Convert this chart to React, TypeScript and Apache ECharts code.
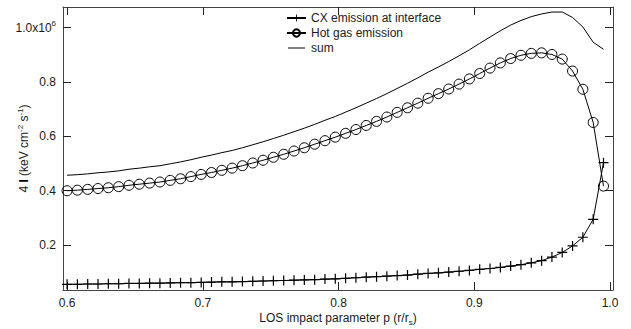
import React, { useEffect, useRef } from "react";
import * as echarts from "echarts";

// LOS impact parameter p (r/r_s)
const P = [
  0.6, 0.6076, 0.6152, 0.6228, 0.6304, 0.638, 0.6456, 0.6532, 0.6608, 0.6684,
  0.676, 0.6836, 0.6912, 0.6988, 0.7064, 0.714, 0.7216, 0.7292, 0.7368, 0.7444,
  0.752, 0.7596, 0.7672, 0.7748, 0.7824, 0.79, 0.7976, 0.8052, 0.8128, 0.8204,
  0.828, 0.8356, 0.8432, 0.8508, 0.8584, 0.866, 0.8736, 0.8812, 0.8888, 0.8964,
  0.904, 0.9116, 0.9192, 0.9268, 0.9344, 0.942, 0.9496, 0.9572, 0.9648, 0.9724,
  0.98, 0.9876, 0.9952,
];

// Hot gas emission (units of 1e6)
const HOT = [
  0.4, 0.402, 0.405, 0.408, 0.411, 0.415, 0.42, 0.424, 0.428, 0.432,
  0.438, 0.444, 0.452, 0.46, 0.467, 0.475, 0.483, 0.492, 0.502, 0.512,
  0.523, 0.534, 0.546, 0.558, 0.571, 0.584, 0.597, 0.611, 0.625, 0.64,
  0.655, 0.671, 0.688, 0.705, 0.722, 0.74, 0.757, 0.774, 0.792, 0.811,
  0.831, 0.851, 0.87, 0.886, 0.898, 0.905, 0.907, 0.901, 0.884, 0.84,
  0.773, 0.651, 0.417,
];

// CX emission at interface (units of 1e6)
const CX = [
  0.056, 0.056, 0.057, 0.057, 0.058, 0.058, 0.059, 0.059, 0.06, 0.06,
  0.061, 0.062, 0.062, 0.063, 0.064, 0.065, 0.065, 0.066, 0.067, 0.068,
  0.069, 0.07, 0.071, 0.072, 0.073, 0.075, 0.076, 0.078, 0.08, 0.082,
  0.084, 0.086, 0.088, 0.09, 0.093, 0.096, 0.098, 0.101, 0.104, 0.107,
  0.111, 0.114, 0.118, 0.123, 0.128, 0.135, 0.143, 0.156, 0.173, 0.197,
  0.229, 0.295, 0.503,
];

// sum (units of 1e6)
const SUM = [
  0.457, 0.459, 0.462, 0.466, 0.469, 0.473, 0.479, 0.483, 0.488, 0.492,
  0.499, 0.506, 0.514, 0.523, 0.531, 0.54, 0.548, 0.558, 0.569, 0.58,
  0.592, 0.604, 0.617, 0.63, 0.644, 0.659, 0.673, 0.689, 0.705, 0.722,
  0.739, 0.757, 0.776, 0.795, 0.815, 0.836, 0.855, 0.875, 0.896, 0.918,
  0.942, 0.965, 0.988, 1.009, 1.026, 1.04, 1.05, 1.057, 1.057, 1.037,
  1.002, 0.946, 0.92,
];

const X_TICKS = [0.6, 0.7, 0.8, 0.9, 1.0];
const Y_TICKS = [0.2, 0.4, 0.6, 0.8, 1.0];
const SERIES_NAMES = ["CX emission at interface", "Hot gas emission", "sum"];

const FONT = "Liberation Sans";
const TXT = "#1a1a1a";
const PLUS = "path://M4.4,0H5.6V10H4.4Z M0,4.4H10V5.6H0Z";
const LINE_ICON =
  "path://M0,0L0.01,0L0.01,0.01Z M0,4.5H19V5.5H0Z M18.99,10L19,10L19,9.99Z";

export default function App() {
  const ref = useRef<HTMLDivElement>(null);
  useEffect(() => {
    document.body.style.margin = "0";
    const chart = echarts.init(ref.current!, null, { renderer: "svg" });
    const xMin = 0.597;
    const xMax = 1.0022;
    const yMin = 0.035;
    const yMax = 1.0755;
    const line = { show: true, onZero: false, lineStyle: { color: "#444", width: 1 } };
    const tickX = { show: true, inside: true, length: 8, customValues: X_TICKS, lineStyle: { color: "#222", width: 1 } };
    const tickY = { show: true, inside: true, length: 8, customValues: Y_TICKS, lineStyle: { color: "#222", width: 1 } };
    chart.setOption({
      animation: false,
      backgroundColor: "#fff",
      textStyle: { fontFamily: FONT },
      grid: { left: 63, right: 18, top: 7, bottom: 39, containLabel: false, outerBoundsMode: "none" },
      legend: {
        data: [
          { name: SERIES_NAMES[0] },
          { name: SERIES_NAMES[1] },
          { name: SERIES_NAMES[2], icon: LINE_ICON, itemStyle: { color: "#000" } },
        ],
        orient: "vertical",
        left: 286,
        top: 12,
        padding: 0,
        itemWidth: 19,
        itemHeight: 9,
        itemGap: 3,
        selectedMode: false,
        textStyle: { fontFamily: FONT, fontSize: 12, color: TXT },
      },
      xAxis: [
        {
          type: "value",
          position: "bottom",
          min: xMin,
          max: xMax,
          axisLine: line,
          axisTick: tickX,
          splitLine: { show: false },
          axisLabel: {
            customValues: X_TICKS,
            formatter: (v: number) => v.toFixed(1),
            margin: 7,
            fontFamily: FONT,
            fontSize: 12,
            color: TXT,
          },
          name: "{n|LOS impact parameter p (r/r}{sub|s}{n|)}",
          nameLocation: "middle",
          nameGap: 20,
          nameMoveOverlap: false,
          nameTextStyle: {
            rich: {
              n: { fontFamily: FONT, fontSize: 12, color: TXT, lineHeight: 16 },
              sub: { fontFamily: FONT, fontSize: 8, color: TXT, lineHeight: 8, verticalAlign: "bottom" },
            },
          },
        },
        {
          type: "value",
          position: "top",
          min: xMin,
          max: xMax,
          axisLine: line,
          axisTick: tickX,
          axisLabel: { show: false },
          splitLine: { show: false },
        },
      ],
      yAxis: [
        {
          type: "value",
          position: "left",
          min: yMin,
          max: yMax,
          axisLine: line,
          axisTick: tickY,
          splitLine: { show: false },
          axisLabel: {
            customValues: Y_TICKS,
            margin: 7,
            formatter: (v: number) =>
              Math.abs(v - 1) < 1e-9 ? "{n|1.0x10}{sup|6}" : "{n|" + v.toFixed(1) + "}",
            rich: {
              n: { fontFamily: FONT, fontSize: 12, color: TXT, lineHeight: 16 },
              sup: { fontFamily: FONT, fontSize: 8, color: TXT, lineHeight: 8, verticalAlign: "top" },
            },
          },
          name: "{n|4 }{b|I}{n| (keV cm}{sup|-2}{n| s}{sup|-1}{n|)}",
          nameLocation: "middle",
          nameGap: 31,
          nameMoveOverlap: false,
          nameTextStyle: {
            rich: {
              n: { fontFamily: FONT, fontSize: 12, color: TXT, lineHeight: 16 },
              b: { fontFamily: FONT, fontSize: 12, color: "#000", fontWeight: "bold", lineHeight: 16 },
              sup: { fontFamily: FONT, fontSize: 8, color: TXT, lineHeight: 8, verticalAlign: "top" },
            },
          },
        },
        {
          type: "value",
          position: "right",
          min: yMin,
          max: yMax,
          axisLine: line,
          axisTick: tickY,
          axisLabel: { show: false },
          splitLine: { show: false },
        },
      ],
      series: [
        {
          name: SERIES_NAMES[0],
          type: "line",
          data: P.map((p, i) => [p, CX[i]]),
          symbol: PLUS,
          symbolSize: 10,
          itemStyle: { color: "#000" },
          lineStyle: { color: "#000", width: 1 },
          emphasis: { disabled: true },
          z: 3,
        },
        {
          name: SERIES_NAMES[1],
          type: "line",
          data: P.map((p, i) => [p, HOT[i]]),
          symbol: "circle",
          symbolSize: 10,
          itemStyle: { color: "rgba(0,0,0,0)", borderColor: "#000", borderWidth: 1 },
          lineStyle: { color: "#000", width: 1 },
          emphasis: { disabled: true },
          z: 3,
        },
        {
          name: SERIES_NAMES[2],
          type: "line",
          data: P.map((p, i) => [p, SUM[i]]),
          symbol: "none",
          showSymbol: false,
          itemStyle: { color: "#000" },
          lineStyle: { color: "#000", width: 1 },
          emphasis: { disabled: true },
          z: 2,
        },
      ],
    });
    return () => chart.dispose();
  }, []);
  return <div ref={ref} style={{ width: 631, height: 329 }} />;
}
